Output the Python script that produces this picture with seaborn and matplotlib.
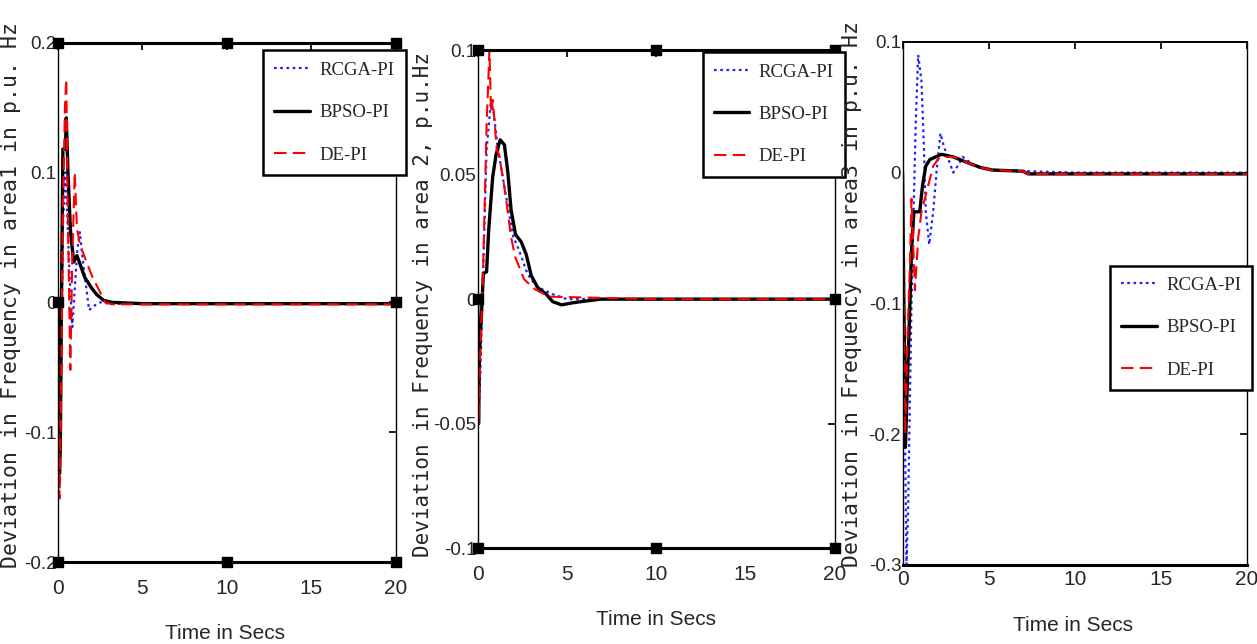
import numpy as np
import pandas as pd
import matplotlib
matplotlib.use("Agg")
import matplotlib.pyplot as plt
import seaborn as sns

# ---- data ----
series_names = ["RCGA-PI", "BPSO-PI", "DE-PI"]

# area 1
a1_rcga_t = [0, 0.05, 0.1, 0.2, 0.3, 0.45, 0.55, 0.7, 0.86, 1.0, 1.15, 1.3, 1.5, 1.85, 2.1, 2.5, 3.0, 4.0, 6.3]
a1_rcga_y = [0, -0.07, -0.13, -0.05, 0.06, 0.1, 0.07, 0.02, -0.019, 0.01, 0.04, 0.054, 0.03, -0.006, -0.003, 0, -0.001, -0.001, -0.001]
a1_bpso_t = [0, 0.05, 0.1, 0.15, 0.2, 0.3, 0.45, 0.5, 0.6, 0.75, 0.94, 1.13, 1.3, 1.6, 2.0, 2.3, 2.7, 3.2, 5, 10, 20]
a1_bpso_y = [0, -0.07, -0.132, -0.11, -0.02, 0.118, 0.118, 0.142, 0.1, 0.055, 0.031, 0.036, 0.03, 0.019, 0.011, 0.006, 0.0016, 0, -0.001, -0.001, -0.001]
a1_de_t = [0, 0.05, 0.1, 0.18, 0.3, 0.42, 0.5, 0.6, 0.74, 0.85, 1.0, 1.13, 1.3, 1.7, 2.0, 2.3, 2.8, 3.2, 5, 10, 20]
a1_de_y = [0, -0.08, -0.151, -0.09, 0.07, 0.15, 0.172, 0.06, -0.052, 0.03, 0.1, 0.057, 0.045, 0.031, 0.021, 0.013, 0, -0.0015, -0.0015, -0.0015, -0.0015]

# area 2
a2_rcga_t = [0, 0.05, 0.15, 0.3, 0.5, 0.75, 0.9, 1.1, 1.5, 2.0, 2.3, 2.8, 3.3, 4.2, 5, 10, 20]
a2_rcga_y = [0, -0.045, -0.03, 0.01, 0.06, 0.08, 0.075, 0.062, 0.045, 0.025, 0.02, 0.01, 0.005, 0.002, 0, 0, 0]
a2_bpso_t = [0, 0.05, 0.1, 0.32, 0.5, 0.62, 0.84, 1.03, 1.26, 1.5, 1.69, 1.87, 2.12, 2.44, 2.72, 3.0, 3.37, 3.84, 4.2, 4.7, 5.3, 5.8, 6.9, 10, 20]
a2_bpso_y = [0, -0.05, -0.023, 0.0103, 0.011, 0.028, 0.049, 0.058, 0.064, 0.062, 0.051, 0.036, 0.026, 0.023, 0.018, 0.0095, 0.0046, 0.002, -0.001, -0.0023, -0.0015, -0.001, 0, 0, 0]
a2_de_t = [0, 0.05, 0.15, 0.3, 0.5, 0.66, 0.75, 0.85, 1.07, 1.2, 1.5, 1.87, 2.1, 2.6, 3.2, 4.0, 10, 20]
a2_de_y = [0, -0.05, -0.02, 0.01, 0.07, 0.1, 0.075, 0.08, 0.06, 0.058, 0.045, 0.025, 0.017, 0.008, 0.004, 0.001, 0, 0]

# area 3
a3_rcga_t = [0, 0.1, 0.23, 0.32, 0.52, 0.66, 0.77, 0.91, 1.1, 1.24, 1.35, 1.55, 1.78, 1.97, 2.2, 2.4, 2.94, 3.2, 3.5, 3.9, 4.3, 5.0, 10, 20]
a3_rcga_y = [0, -0.15, -0.3, -0.26, -0.1, -0.02, 0.04, 0.09, 0.07, 0.02, -0.03, -0.055, -0.03, 0, 0.03, 0.02, 0, 0.005, 0.012, 0.008, 0.005, 0.002, 0, 0]
a3_bpso_t = [0, 0.08, 0.17, 0.33, 0.43, 0.52, 0.66, 1.0, 1.16, 1.35, 1.59, 2.26, 2.94, 3.7, 4.5, 5.2, 7.0, 7.3, 20]
a3_bpso_y = [0, -0.1, -0.21, -0.14, -0.1, -0.06, -0.03, -0.03, -0.01, 0.005, 0.01, 0.014, 0.012, 0.008, 0.004, 0.002, 0.001, -0.001, -0.001]
a3_de_t = [0, 0.08, 0.15, 0.3, 0.43, 0.52, 0.72, 0.91, 1.1, 1.49, 1.78, 2.17, 2.94, 3.7, 4.5, 5.2, 7.0, 7.3, 20]
a3_de_y = [0, -0.12, -0.2, -0.12, -0.07, -0.02, -0.09, -0.05, -0.03, -0.01, 0.005, 0.012, 0.012, 0.008, 0.004, 0.002, 0.001, -0.001, -0.001]

ylabels = ["Deviation in Frequency in area1 in p.u. Hz",
           "Deviation in Frequency in area 2, p.u.Hz",
           "Deviation in Frequency in area3 in p.u. Hz"]
yticks = [[0.2, 0.1, 0, -0.1, -0.2],
          [0.1, 0.05, 0, -0.05, -0.1],
          [0.1, 0, -0.1, -0.2, -0.3]]
ytick_labels = [["0.2", "0.1", "0", "-0.1", "-0.2"],
                ["0.1", "0.05", "0", "-0.05", "-0.1"],
                ["0.1", "0", "-0.1", "-0.2", "-0.3"]]
xticks = [0, 5, 10, 15, 20]

# black square markers sitting on the frame of the first two panels
frame_marks_x = [0, 10, 20, 0, 20, 0, 10, 20]
frame_marks_frac = [1, 1, 1, 0.5, 0.5, 0, 0, 0]


def build_frame(ts, ys):
    rows = []
    for name, t, y in zip(series_names, ts, ys):
        rows.append(pd.DataFrame({"t": t, "y": y, "series": name}))
    return pd.concat(rows, ignore_index=True)


panels = [
    build_frame([a1_rcga_t, a1_bpso_t, a1_de_t], [a1_rcga_y, a1_bpso_y, a1_de_y]),
    build_frame([a2_rcga_t, a2_bpso_t, a2_de_t], [a2_rcga_y, a2_bpso_y, a2_de_y]),
    build_frame([a3_rcga_t, a3_bpso_t, a3_de_t], [a3_rcga_y, a3_bpso_y, a3_de_y]),
]

styles = {
    "RCGA-PI": dict(color="#1f1fff", linestyle=(0, (1.2, 1.6)), linewidth=1.6),
    "BPSO-PI": dict(color="black", linestyle="-", linewidth=2.4),
    "DE-PI": dict(color="red", linestyle=(0, (6, 3)), linewidth=1.5),
}

sns.set_theme(style="white")
plt.rcParams["font.family"] = ["DejaVu Sans"]

fig = plt.figure(figsize=(12.57, 6.44), dpi=100)
axes_rects = [
    [0.046, 0.127, 0.269, 0.807],
    [0.380, 0.149, 0.284, 0.773],
    [0.718, 0.123, 0.274, 0.812],
]
legend_locs = [(0.607, 0.985), (0.63, 0.996), (0.602, 0.572)]
ylabel_pos = [(-0.108, 0.515), (-0.125, 0.49), (-0.118, 0.518)]
ylabel_size = [15.5, 15.0, 15.5]
xlabel_pos = [(0.494, -0.118), (0.5, -0.125), (0.494, -0.098)]
xtick_pad = [12, 12, 4]
tick_font = ["Liberation Sans Narrow", "Liberation Sans", "DejaVu Sans"]

for i, (rect, df) in enumerate(zip(axes_rects, panels)):
    ax = fig.add_axes(rect)
    for name in series_names:
        sub = df[df["series"] == name]
        sns.lineplot(data=sub, x="t", y="y", ax=ax, sort=False, estimator=None,
                     label=name, **styles[name])
    lo, hi = yticks[i][-1], yticks[i][0]
    ax.set_xlim(0, 20)
    ax.set_ylim(lo, hi)
    ax.set_xticks(xticks)
    ax.set_xticklabels([str(v) for v in xticks], family=tick_font, fontsize=15)
    ax.set_yticks(yticks[i])
    ax.set_yticklabels(ytick_labels[i], family=tick_font, fontsize=13.5)
    ax.tick_params(direction="in", length=5, top=True, right=True, pad=1, color="black")
    ax.tick_params(axis="x", pad=xtick_pad[i])
    for sp in ax.spines.values():
        sp.set_color("black")
        sp.set_linewidth(1.0)
    if i < 2:
        ax.spines["top"].set_linewidth(2.2)
        ax.spines["bottom"].set_linewidth(2.2)
        ax.scatter(frame_marks_x, [lo + f * (hi - lo) for f in frame_marks_frac],
                   marker="s", s=45, color="black", clip_on=False, zorder=5)
    else:
        ax.spines["top"].set_linewidth(1.4)
        ax.spines["bottom"].set_linewidth(2.2)
    ax.set_xlabel("Time in Secs", family=tick_font, fontsize=15)
    ax.set_ylabel(ylabels[i], family=["DejaVu Sans Mono"], fontsize=ylabel_size[i])
    ax.xaxis.set_label_coords(*xlabel_pos[i])
    ax.yaxis.set_label_coords(*ylabel_pos[i])

    leg = ax.legend(loc="upper left", bbox_to_anchor=legend_locs[i], frameon=True,
                    prop={"family": "Liberation Serif", "size": 13.5},
                    handlelength=1.9, labelspacing=1.35, borderpad=0.6,
                    borderaxespad=0, fancybox=False, framealpha=1,
                    handletextpad=0.5)
    leg.get_frame().set_edgecolor("black")
    leg.get_frame().set_linewidth(1.8)

fig.savefig("out.png", dpi=100)
